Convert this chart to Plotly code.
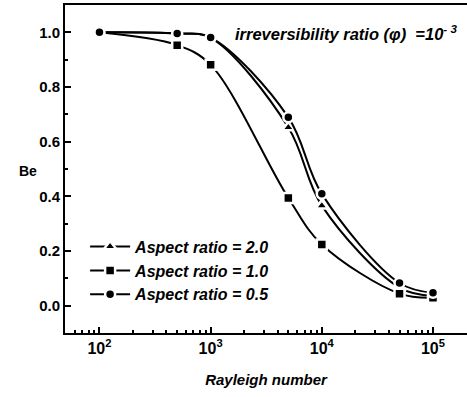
import plotly.graph_objects as go

# Rayleigh numbers and Bejan number for each aspect ratio
rayleigh = [1e2, 5e2, 1e3, 5e3, 1e4, 5e4, 1e5]
be_ar20 = [1.0, 0.995, 0.98, 0.652, 0.366, 0.066, 0.035]
be_ar10 = [1.0, 0.953, 0.881, 0.394, 0.224, 0.044, 0.029]
be_ar05 = [1.0, 0.996, 0.981, 0.689, 0.409, 0.083, 0.047]

series = [
    ("Aspect ratio = 2.0", be_ar20, "triangle-up", 11),
    ("Aspect ratio = 1.0", be_ar10, "square", 10),
    ("Aspect ratio = 0.5", be_ar05, "circle", 10),
]

# minor log ticks: 2..9 in every decade
minor_x = [m * 10 ** d for d in range(1, 6) for m in range(2, 10)]

FONT = "Arial, Liberation Sans, sans-serif"

fig = go.Figure()
for name, vals, sym, sz in series:
    fig.add_trace(go.Scatter(
        x=rayleigh, y=vals, name=name, mode="lines+markers",
        line=dict(color="black", width=2, shape="spline", smoothing=1.0),
        marker=dict(symbol=sym, size=sz, color="black",
                    line=dict(color="white", width=2.5)),
    ))

fig.update_layout(
    width=467, height=397,
    margin=dict(l=65, r=0, t=5, b=64),
    paper_bgcolor="white", plot_bgcolor="white",
    font=dict(family=FONT, size=13, color="black"),
    showlegend=True,
    legend=dict(
        x=0.05, y=0.315, xanchor="left", yanchor="top",
        bgcolor="rgba(0,0,0,0)", borderwidth=0,
        font=dict(family=FONT, size=16, color="black", weight="bold", style="italic"),
        itemwidth=40, tracegroupgap=0,
    ),
    xaxis=dict(
        type="log", range=[1.69, 5.306],
        tickvals=[1e2, 1e3, 1e4, 1e5],
        ticktext=["10<sup>2</sup>", "10<sup>3</sup>", "10<sup>4</sup>", "10<sup>5</sup>"],
        ticks="inside", ticklen=6, tickwidth=2, tickcolor="black",
        minor=dict(ticks="inside", ticklen=3, tickwidth=1.5, tickcolor="black",
                   tickmode="array", tickvals=minor_x, showgrid=False),
        showline=True, linecolor="black", linewidth=2, mirror=True,
        showgrid=False, zeroline=False,
        tickfont=dict(family=FONT, size=16, color="black", weight="bold"),
        title=dict(text="Rayleigh number", standoff=18,
                   font=dict(family=FONT, size=15, color="black",
                             weight="bold", style="italic")),
    ),
    yaxis=dict(
        range=[-0.1, 1.1],
        tickvals=[0.0, 0.2, 0.4, 0.6, 0.8, 1.0],
        ticktext=["0.0", "0.2", "0.4", "0.6", "0.8", "1.0"],
        ticks="inside", ticklen=6, tickwidth=2, tickcolor="black",
        minor=dict(ticks="inside", ticklen=3, tickwidth=1.5, tickcolor="black",
                   dtick=0.1, showgrid=False),
        showline=True, linecolor="black", linewidth=2, mirror=False,
        showgrid=False, zeroline=False,
        tickfont=dict(family=FONT, size=15, color="black", weight="bold"),
    ),
)

fig.add_annotation(
    x=-0.092, y=0.494, xref="paper", yref="paper", showarrow=False,
    text="Be", xanchor="center", yanchor="middle",
    font=dict(family=FONT, size=14, color="black", weight="bold"),
)

fig.add_annotation(
    x=0.98, y=0.915, xref="paper", yref="paper", showarrow=False,
    xanchor="right", yanchor="middle",
    text="irreversibility ratio (<i>φ</i>)  =10<sup>- 3</sup>",
    font=dict(family=FONT, size=16.5, color="black", weight="bold", style="italic"),
)

fig.write_html("out.html")
